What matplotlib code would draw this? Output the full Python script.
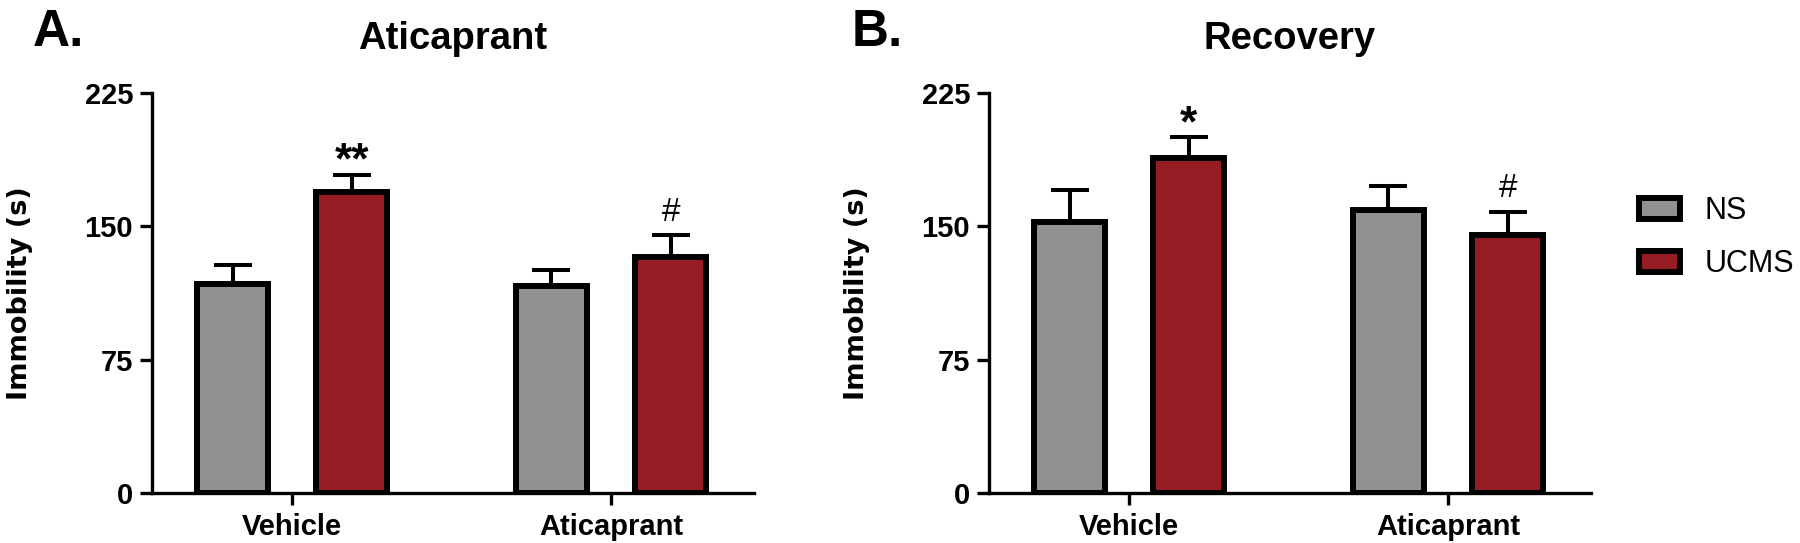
import numpy as np
import matplotlib
matplotlib.use("Agg")
import matplotlib.pyplot as plt

plt.rcParams['font.family'] = ['Liberation Sans', 'DejaVu Sans']

# data (mean and upper SEM, seconds)
groups = ["Vehicle", "Aticaprant"]
series = ["NS", "UCMS"]
aticaprant_ns = [117.5, 116.5]
aticaprant_ns_sem = [10.5, 8.7]
aticaprant_ucms = [169.5, 132.5]
aticaprant_ucms_sem = [9.5, 12.5]
recovery_ns = [152.5, 159.0]
recovery_ns_sem = [17.8, 13.7]
recovery_ucms = [188.5, 145.0]
recovery_ucms_sem = [11.5, 13.3]
yticks = [0, 75, 150, 225]
aticaprant_marks = ["**", "#"]
recovery_marks = ["*", "#"]

gray = "#919191"
red = "#971c24"


def draw_panel(ax, ns, ns_sem, ucms, ucms_sem, marks, title):
    x = np.arange(len(groups))
    off = 0.187
    w = 0.222
    for vals, sem, dx, col, lab in [(ns, ns_sem, -off, gray, series[0]),
                                    (ucms, ucms_sem, off, red, series[1])]:
        ax.errorbar(x + dx, vals, yerr=[np.zeros(len(sem)), sem], fmt="none",
                    ecolor="black", elinewidth=2.9, capsize=14, capthick=2.9,
                    zorder=1)
        ax.bar(x + dx, vals, width=w, color=col, edgecolor="black",
               linewidth=4.3, label=lab, zorder=2)

    # significance marks over the UCMS bars
    tops = np.array(ucms) + np.array(ucms_sem)
    for i, m in enumerate(marks):
        if m.startswith("*"):
            ax.text(x[i] + off, tops[i] + 0.5, m, ha="center", va="baseline",
                    fontsize=32, fontweight="bold")
        else:
            ax.text(x[i] + off, tops[i] + 8, m, ha="center", va="baseline",
                    fontsize=24)

    ax.set_xlim(-0.44, 1.448)
    ax.set_ylim(0, 225)
    ax.set_yticks(yticks)
    ax.set_xticks(x)
    ax.set_xticklabels(groups)
    for s in ["top", "right"]:
        ax.spines[s].set_visible(False)
    for s in ["left", "bottom"]:
        ax.spines[s].set_linewidth(2.4)
    ax.tick_params(axis="both", width=2.4, length=8.6, labelsize=21)
    ax.tick_params(axis="y", pad=5)
    ax.tick_params(axis="x", pad=6)
    for lbl in ax.get_xticklabels() + ax.get_yticklabels():
        lbl.set_fontweight("bold")
    ax.set_ylabel("Immobility (s)", fontsize=19.5, fontweight="bold",
                  family="DejaVu Sans")
    ax.yaxis.set_label_coords(-0.198, 0.5)
    ax.set_title(title, fontsize=27.5, fontweight="bold", pad=32)


fig = plt.figure(figsize=(18, 5.43), dpi=100)
axA = fig.add_axes([0.0844, 0.0921, 0.3344, 0.7366])
axB = fig.add_axes([0.5494, 0.0921, 0.3344, 0.7366])

draw_panel(axA, aticaprant_ns, aticaprant_ns_sem, aticaprant_ucms,
           aticaprant_ucms_sem, aticaprant_marks, "Aticaprant")
draw_panel(axB, recovery_ns, recovery_ns_sem, recovery_ucms,
           recovery_ucms_sem, recovery_marks, "Recovery")

fig.text(33 / 1800, 1 - 46 / 543, "A.", fontsize=37, fontweight="bold",
         ha="left", va="baseline")
fig.text(852 / 1800, 1 - 46 / 543, "B.", fontsize=37, fontweight="bold",
         ha="left", va="baseline")

axB.legend(loc="upper left", bbox_to_anchor=(1639 / 1800, 1 - 196 / 543),
           bbox_transform=fig.transFigure, frameon=False, fontsize=22,
           handlelength=1.35, handleheight=0.68, handletextpad=0.8,
           labelspacing=0.75, borderpad=0, borderaxespad=0)

fig.savefig("out.png", dpi=100)
